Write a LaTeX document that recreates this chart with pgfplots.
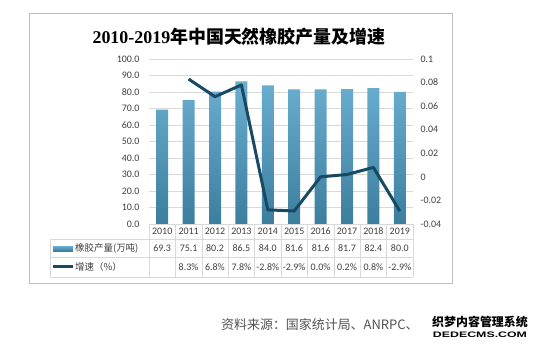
\documentclass[border=0pt]{standalone}
\usepackage{fontspec}
\usepackage{pgfplots}
\pgfplotsset{compat=1.18}
\usepackage{pgfplotstable}
\setmainfont{Carlito}
\newfontfamily\cjk{Noto Sans CJK SC}
\newfontfamily\tser{Liberation Serif}
\newfontfamily\lsans{Liberation Sans}
\definecolor{barTop}{RGB}{106,174,208}
\definecolor{barBot}{RGB}{60,126,158}
\definecolor{lineC}{RGB}{24,74,99}
\definecolor{gridC}{RGB}{217,217,217}
\definecolor{boxC}{RGB}{191,191,191}
\definecolor{txtC}{RGB}{64,64,64}
\pgfplotstableread{
x year prod
0 2010 69.3
1 2011 75.1
2 2012 80.2
3 2013 86.5
4 2014 84.0
5 2015 81.6
6 2016 81.6
7 2017 81.7
8 2018 82.4
9 2019 80.0
}\prodtab
\pgfplotstableread{
x rate
1 0.083
2 0.068
3 0.078
4 -0.028
5 -0.029
6 0.000
7 0.002
8 0.008
9 -0.029
}\ratetab
\begin{document}
\begin{tikzpicture}[x=1bp,y=1bp]
\path[use as bounding box] (0,0) rectangle (540,350);
\fill[white] (0,0) rectangle (540,350);
\draw[boxC, line width=0.8bp] (29,67) rectangle (452,337);
% title
\node[anchor=center] at (239,313) {\fontsize{18}{20}\selectfont\bfseries\tser 2010-2019\cjk 年中国天然橡胶产量及增速};
\begin{axis}[
  at={(149bp,126bp)}, anchor=south west,
  width=264bp, height=165bp, scale only axis,
  xmin=-0.5, xmax=9.5, ymin=0, ymax=100,
  xtick=\empty,
  ytick={0,10,...,100},
  yticklabels={0.0,10.0,20.0,30.0,40.0,50.0,60.0,70.0,80.0,90.0,100.0},
  ymajorgrids, grid style={gridC, line width=0.6bp},
  axis line style={draw=none},
  tick style={draw=none},
  yticklabel style={font=\fontsize{10}{12}\selectfont, text=txtC, xshift=-6bp},
  clip=false,
]
\addplot[ybar, bar width=12bp, draw=none, top color=barTop, bottom color=barBot] table[x=x,y=prod]{\prodtab};
\end{axis}
\begin{axis}[
  at={(149bp,126bp)}, anchor=south west,
  width=264bp, height=165bp, scale only axis,
  xmin=-0.5, xmax=9.5, ymin=-0.04, ymax=0.1,
  xtick=\empty,
  ytick={-0.04,-0.02,0,0.02,0.04,0.06,0.08,0.1},
  yticklabels={-0.04,-0.02,0,0.02,0.04,0.06,0.08,0.1},
  yticklabel pos=right,
  axis line style={draw=none},
  tick style={draw=none},
  yticklabel style={font=\fontsize{10}{12}\selectfont, text=txtC, anchor=west, xshift=4bp},
  clip=false,
]
\addplot[lineC, line width=3bp, mark=none, line join=round] table[x=x,y=rate]{\ratetab};
\end{axis}
% data table
\draw[gridC, line width=0.6bp] (149,126) -- (413,126);
\foreach \yy in {111,93,73} {\draw[gridC, line width=0.6bp] (50,\yy) -- (413,\yy);}
\draw[gridC, line width=0.6bp] (50,111) -- (50,73);
\foreach \k in {0,...,10} {\draw[gridC, line width=0.6bp] ({149+26.4*\k},126) -- ({149+26.4*\k},73);}
\foreach \v [count=\i from 0] in {2010,2011,2012,2013,2014,2015,2016,2017,2018,2019}
  {\node[text=txtC, font=\fontsize{10}{12}\selectfont] at ({162.2+26.4*\i},118.5) {\v};}
\foreach \v [count=\i from 0] in {69.3,75.1,80.2,86.5,84.0,81.6,81.6,81.7,82.4,80.0}
  {\node[text=txtC, font=\fontsize{10}{12}\selectfont] at ({162.2+26.4*\i},101.5) {\v};}
\foreach \v [count=\i from 1] in {8.3\%,6.8\%,7.8\%,-2.8\%,-2.9\%,0.0\%,0.2\%,0.8\%,-2.9\%}
  {\node[text=txtC, font=\fontsize{10}{12}\selectfont] at ({162.2+26.4*\i},83) {\v};}
\shade[top color=barTop, bottom color=barBot] (53,99) rectangle (73,104);
\draw[lineC, line width=3bp] (53,83.5) -- (73,83.5);
\node[anchor=west, text=txtC, inner sep=0pt] at (75,101.5) {\fontsize{9.5}{11}\selectfont\cjk 橡胶产量(万吨)};
\node[anchor=west, text=txtC, inner sep=0pt] at (75,83.5) {\fontsize{9.5}{11}\selectfont\cjk 增速（\%）};
% source
\node[anchor=west, text=txtC!90, inner sep=0pt] at (221,25) {\fontsize{13}{15}\selectfont\cjk 资料来源：国家统计局、ANRPC、};
\node[anchor=center, inner sep=0pt] at (480,28) {\fontsize{12}{13}\selectfont\cjk\bfseries 织梦内容管理系统};
\node[anchor=center, inner sep=0pt, xscale=1.55] at (480,15) {\fontsize{8}{9}\selectfont\lsans\bfseries DEDECMS.COM};
\end{tikzpicture}
\end{document}
